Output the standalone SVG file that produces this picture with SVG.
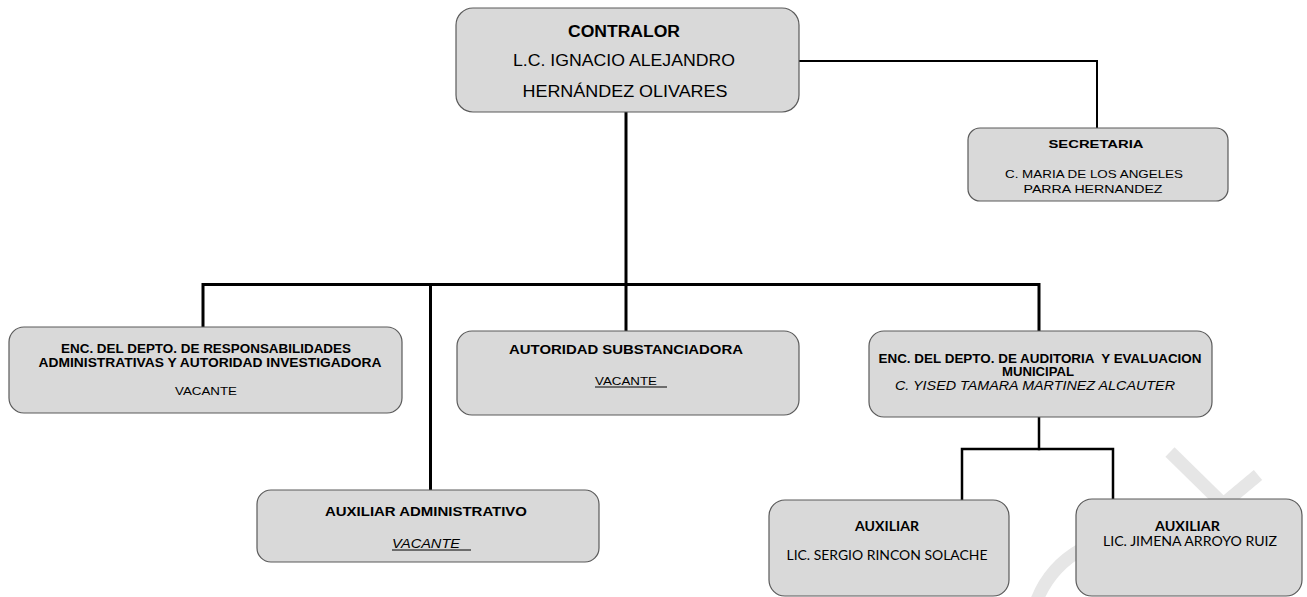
<svg xmlns="http://www.w3.org/2000/svg" width="1307" height="597" viewBox="0 0 1307 597">
<style>
.box{fill:#d9d9d9;stroke:#5a5a5a;stroke-width:1.2}
.ar{font-family:"Liberation Sans",Arial,sans-serif;fill:#000;text-anchor:middle}
.b{font-weight:bold}
.cal{font-family:Lato,"Open Sans",sans-serif;fill:#000;text-anchor:middle}
.ln{fill:none;stroke:#000;stroke-linecap:square;stroke-linejoin:miter}
.wm{fill:none;stroke:#e6e6e6;stroke-width:13;stroke-linecap:butt}
</style>
<rect width="1307" height="597" fill="#fff"/>
<g id="watermark">
<path class="wm" d="M1170,452 L1222,503"/>
<path class="wm" d="M1258,475 L1222,505"/>
<path class="wm" d="M1037,600 Q1050,567 1082,549"/>
</g>
<g id="connectors">
<path class="ln" stroke-width="2" d="M799,61 H1097 V128"/>
<path class="ln" stroke-width="3" d="M626,112 V331"/>
<path class="ln" stroke-width="3" d="M203,327 V284.5 H1039 V331"/>
<path class="ln" stroke-width="3" d="M430.5,284.5 V490"/>
<path class="ln" stroke-width="2.5" d="M1039,417 V449"/>
<path class="ln" stroke-width="2.5" d="M962,500 V449 H1113 V499"/>
</g>
<g id="contralor">
<rect class="box" x="456" y="8" width="343" height="104" rx="17"/>
<text class="ar b" x="624" y="37" font-size="16" textLength="112" lengthAdjust="spacingAndGlyphs">CONTRALOR</text>
<text class="ar" x="624" y="66" font-size="16" textLength="222" lengthAdjust="spacingAndGlyphs">L.C. IGNACIO ALEJANDRO</text>
<text class="ar" x="625" y="97" font-size="16" textLength="205" lengthAdjust="spacingAndGlyphs">HERNÁNDEZ OLIVARES</text>
</g>
<g id="secretaria">
<rect class="box" x="968" y="128" width="260" height="73" rx="12"/>
<text class="ar b" x="1096" y="148" font-size="11.5" textLength="95" lengthAdjust="spacingAndGlyphs">SECRETARIA</text>
<text class="ar" x="1094" y="178" font-size="11.5" textLength="178" lengthAdjust="spacingAndGlyphs">C. MARIA DE LOS ANGELES</text>
<text class="ar" x="1093" y="193" font-size="11.5" textLength="139" lengthAdjust="spacingAndGlyphs">PARRA HERNANDEZ</text>
</g>
<g id="responsabilidades">
<rect class="box" x="9" y="327" width="393" height="86" rx="15"/>
<text class="ar b" x="206" y="353" font-size="12" textLength="290" lengthAdjust="spacingAndGlyphs">ENC. DEL DEPTO. DE RESPONSABILIDADES</text>
<text class="ar b" x="210" y="367" font-size="12" textLength="343" lengthAdjust="spacingAndGlyphs">ADMINISTRATIVAS Y AUTORIDAD INVESTIGADORA</text>
<text class="ar" x="206" y="395" font-size="11.5" textLength="62" lengthAdjust="spacingAndGlyphs">VACANTE</text>
</g>
<g id="substanciadora">
<rect class="box" x="457" y="331" width="342" height="84" rx="15"/>
<text class="ar b" x="626" y="354" font-size="12" textLength="234" lengthAdjust="spacingAndGlyphs">AUTORIDAD SUBSTANCIADORA</text>
<text class="ar" x="626" y="385" font-size="11.5" textLength="62" lengthAdjust="spacingAndGlyphs">VACANTE</text>
<line x1="595" y1="387" x2="667" y2="387" stroke="#000" stroke-width="1"/>
</g>
<g id="auditoria">
<rect class="box" x="869" y="331" width="343" height="86" rx="15"/>
<text class="ar b" x="1040" y="363" font-size="12" textLength="323" lengthAdjust="spacingAndGlyphs" xml:space="preserve">ENC. DEL DEPTO. DE AUDITORIA  Y EVALUACION</text>
<text class="ar b" x="1038" y="376" font-size="12" textLength="72" lengthAdjust="spacingAndGlyphs">MUNICIPAL</text>
<text class="ar" x="1035" y="389.5" font-size="12" font-style="italic" textLength="280" lengthAdjust="spacingAndGlyphs">C. YISED TAMARA MARTINEZ ALCAUTER</text>
</g>
<g id="auxiliar-administrativo">
<rect class="box" x="257" y="490" width="342" height="72" rx="14"/>
<text class="ar b" x="426" y="516" font-size="12" textLength="202" lengthAdjust="spacingAndGlyphs">AUXILIAR ADMINISTRATIVO</text>
<text class="ar" x="426" y="548" font-size="12" font-style="italic" textLength="68" lengthAdjust="spacingAndGlyphs">VACANTE</text>
<line x1="392" y1="550" x2="471" y2="550" stroke="#000" stroke-width="1"/>
</g>
<g id="auxiliar-sergio">
<rect class="box" x="769" y="500" width="240" height="96" rx="16"/>
<text class="cal b" x="887" y="531" font-size="13" textLength="64" lengthAdjust="spacingAndGlyphs">AUXILIAR</text>
<text class="cal" x="887" y="560" font-size="13" textLength="201" lengthAdjust="spacingAndGlyphs">LIC. SERGIO RINCON SOLACHE</text>
</g>
<g id="auxiliar-jimena">
<rect class="box" x="1076" y="499" width="226" height="97" rx="16"/>
<text class="cal b" x="1187.5" y="531" font-size="13" textLength="65" lengthAdjust="spacingAndGlyphs">AUXILIAR</text>
<text class="cal" x="1190" y="546" font-size="13" textLength="174" lengthAdjust="spacingAndGlyphs">LIC. JIMENA ARROYO RUIZ</text>
</g>
</svg>
